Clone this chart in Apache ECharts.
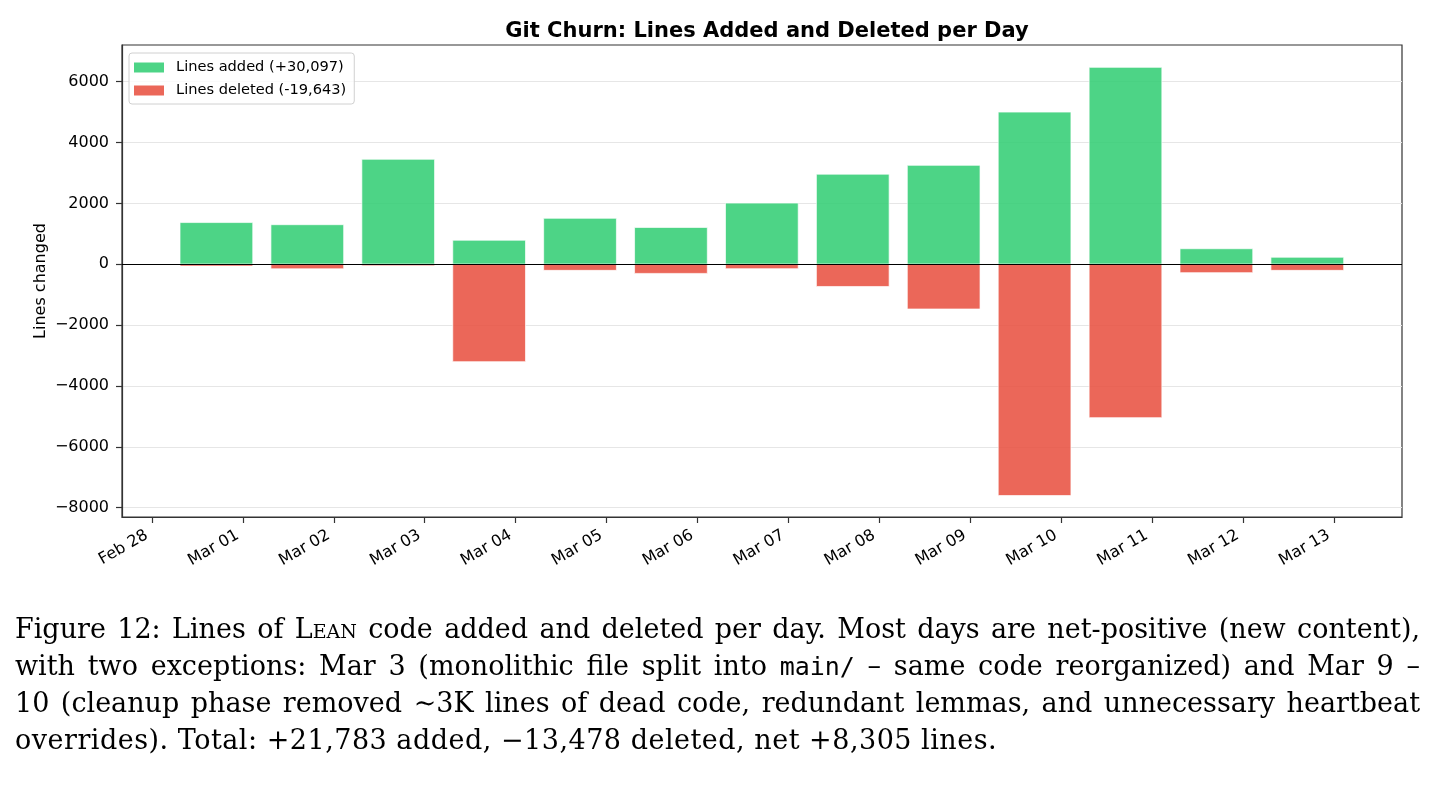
<!DOCTYPE html>
<html>
<head>
<meta charset="utf-8">
<script src="https://cdn.jsdelivr.net/npm/echarts@6/dist/echarts.min.js"></script>
<style>
  html, body { margin: 0; padding: 0; background: #fff; }
  #chart { position: absolute; left: 0; top: 0; width: 1435px; height: 791px; }
  #caption { position: absolute; left: 15px; top: 611px; width: 1405px;
    font-family: "DejaVu Serif", "Liberation Serif", serif; font-size: 27px; line-height: 36.7px; color: #000; }
  #caption .l { text-align: justify; text-align-last: justify; white-space: nowrap; }
  #caption .last { text-align: left; text-align-last: left; letter-spacing: 0.5px; }
  #caption .sc { font-variant: small-caps; }
  #caption code { font-family: "DejaVu Sans Mono", "Liberation Mono", monospace; font-size: 25px; }
</style>
</head>
<body>
<div id="chart"></div>
<div id="caption">
  <div class="l">Figure 12: Lines of <span class="sc">Lean</span> code added and deleted per day. Most days are net-positive (new content),</div>
  <div class="l">with two exceptions: Mar 3 (monolithic file split into <code>main/</code> – same code reorganized) and Mar 9 –</div>
  <div class="l">10 (cleanup phase removed ∼3K lines of dead code, redundant lemmas, and unnecessary heartbeat</div>
  <div class="l last">overrides). Total: +21,783 added, −13,478 deleted, net +8,305 lines.</div>
</div>
<script>
// ---- data ----
const TITLE = 'Git Churn: Lines Added and Deleted per Day';
const Y_NAME = 'Lines changed';
const TICK_LABELS = ['Feb 28','Mar 01','Mar 02','Mar 03','Mar 04','Mar 05','Mar 06','Mar 07','Mar 08','Mar 09','Mar 10','Mar 11','Mar 12','Mar 13'];
const DATES = ['Mar 01','Mar 02','Mar 03','Mar 04','Mar 05','Mar 06','Mar 07','Mar 08','Mar 09','Mar 10','Mar 11','Mar 12','Mar 13'];
const ADDED = [1370, 1300, 3450, 790, 1510, 1210, 2010, 2960, 3250, 5000, 6470, 510, 230];
const DELETED = [-60, -150, -50, -3200, -200, -300, -145, -730, -1470, -7600, -5040, -275, -200];
const Y_TICKS = [-8000, -6000, -4000, -2000, 0, 2000, 4000, 6000];
const ADDED_NAME = 'Lines added (+30,097)';
const DELETED_NAME = 'Lines deleted (-19,643)';

// ---- presentation ----
const BAR_SHIFT = 7 / 24;   // bars drawn at UTC midnight shown in a UTC-7 axis
const BAR_WIDTH = 0.8;      // in days
const GREEN = '#2ecc71', RED = '#e74c3c', ALPHA = 0.85;
const FONT = 'DejaVu Sans';

const xOf = d => TICK_LABELS.indexOf(d) - BAR_SHIFT;
const addedData = DATES.map((d, i) => [xOf(d), ADDED[i]]);
const deletedData = DATES.map((d, i) => [xOf(d), DELETED[i]]);

function makeRender(color) {
  return function (params, api) {
    const x = api.value(0), y = api.value(1);
    const p0 = api.coord([x - BAR_WIDTH / 2, 0]);
    const p1 = api.coord([x + BAR_WIDTH / 2, y]);
    return {
      type: 'rect',
      shape: { x: p0[0], y: Math.min(p0[1], p1[1]), width: p1[0] - p0[0], height: Math.abs(p1[1] - p0[1]) },
      style: { fill: color, stroke: '#ffffff', lineWidth: 0.8, opacity: ALPHA }
    };
  };
}

const chart = echarts.init(document.getElementById('chart'), null, { renderer: 'canvas' });
const minus = v => String(v).replace('-', '\u2212');

chart.setOption({
  animation: false,
  backgroundColor: '#fff',
  title: {
    text: TITLE, left: 762, top: 16, textAlign: 'center',
    textStyle: { fontFamily: FONT, fontWeight: 'bold', fontSize: 21, color: '#000' }
  },
  legend: {
    orient: 'vertical', left: 129, top: 53,
    padding: [6, 8, 5, 5],
    itemWidth: 30, itemHeight: 10, itemGap: 6,
    borderColor: '#d0d0d0', borderWidth: 1, borderRadius: 3,
    backgroundColor: 'rgba(255,255,255,0.8)',
    textStyle: { fontFamily: FONT, fontSize: 14.6, color: '#000', lineHeight: 17, padding: [0, 0, 0, 7] },
    data: [
      { name: ADDED_NAME, icon: 'rect', itemStyle: { color: GREEN, opacity: ALPHA } },
      { name: DELETED_NAME, icon: 'rect', itemStyle: { color: RED, opacity: ALPHA } }
    ]
  },
  grid: { left: 122, right: 33, top: 45, bottom: 274, show: true, borderColor: '#333', borderWidth: 1.2, containLabel: false },
  xAxis: {
    type: 'value', min: -0.33, max: 13.75,
    axisLine: { show: true, onZero: false, lineStyle: { color: '#333', width: 1.2 } },
    axisTick: { show: true, inside: false, length: 6, lineStyle: { color: '#333', width: 1.2 }, customValues: TICK_LABELS.map((_, i) => i) },
    axisLabel: {
      customValues: TICK_LABELS.map((_, i) => i),
      formatter: v => TICK_LABELS[Math.round(v)],
      rotate: 30, margin: 14, padding: [0, 6, 0, 0], fontFamily: FONT, fontSize: 16, color: '#000'
    },
    splitLine: { show: false }
  },
  yAxis: {
    type: 'value', min: -8305, max: 7205,
    name: Y_NAME, nameLocation: 'middle', nameGap: 73, nameRotate: 90, nameMoveOverlap: false,
    nameTextStyle: { fontFamily: FONT, fontSize: 16, color: '#000' },
    axisLine: { show: true, onZero: false, lineStyle: { color: '#333', width: 1.2 } },
    axisTick: { show: true, inside: false, length: 6, lineStyle: { color: '#333', width: 1.2 }, customValues: Y_TICKS },
    axisLabel: { customValues: Y_TICKS, formatter: v => minus(v), margin: 13, fontFamily: FONT, fontSize: 16, color: '#000' },
    splitLine: { show: true, lineStyle: { color: '#e6e6e6', width: 1.2 } }
  },
  series: [
    {
      name: ADDED_NAME, type: 'custom', data: addedData, renderItem: makeRender(GREEN),
      itemStyle: { color: GREEN, opacity: ALPHA }, encode: { x: 0, y: 1 }, z: 2
    },
    {
      name: DELETED_NAME, type: 'custom', data: deletedData, renderItem: makeRender(RED),
      itemStyle: { color: RED, opacity: ALPHA }, encode: { x: 0, y: 1 }, z: 2,
      markLine: {
        silent: true, symbol: 'none', label: { show: false },
        lineStyle: { color: '#000', width: 1, type: 'solid' },
        data: [{ yAxis: 0 }]
      }
    }
  ]
});
</script>
</body>
</html>
